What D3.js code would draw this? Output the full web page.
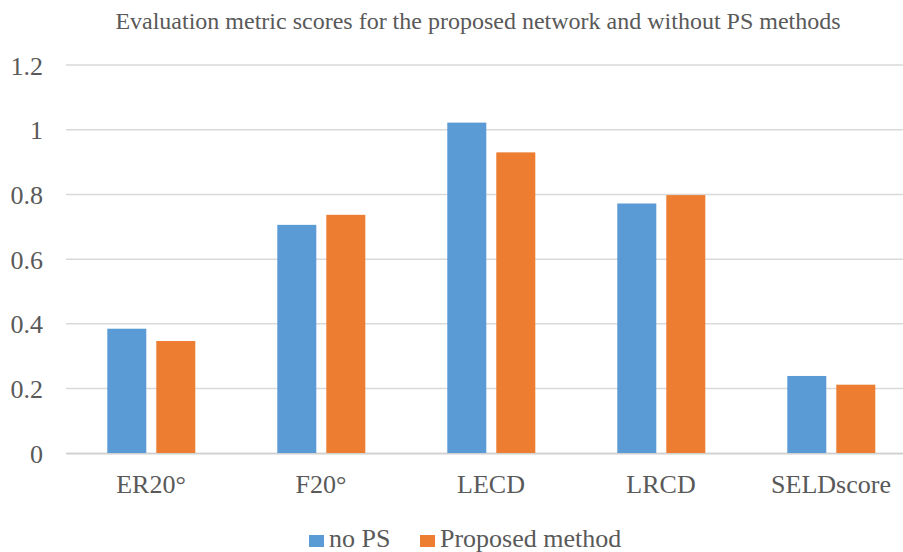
<!DOCTYPE html>
<html>
<head>
<meta charset="utf-8">
<script src="https://cdn.jsdelivr.net/npm/d3@7"></script>
<style>
  html, body { margin: 0; padding: 0; background: #ffffff; }
  svg { display: block; }
  svg text { font-family: "Liberation Serif", "DejaVu Serif", serif !important; fill: #595959; }
</style>
</head>
<body>
<svg id="chart" width="903" height="552"></svg>
<script>
// Metric categories and the two series
const categories = ["ER20°", "F20°", "LECD", "LRCD", "SELDscore"];
const seriesNames = ["no PS", "Proposed method"];
const noPS = [0.385, 0.706, 1.022, 0.772, 0.239];
const proposed = [0.347, 0.737, 0.930, 0.798, 0.212];
const yTicks = [0, 0.2, 0.4, 0.6, 0.8, 1, 1.2];
const colors = ["#5b9bd5", "#ed7d31"];
const title = "Evaluation metric scores for the proposed network and without PS methods";

const FONT = "'Liberation Serif', 'DejaVu Serif', serif";
const svg = d3.select("#chart").attr("font-family", FONT);

const x0 = d3.scaleBand().domain(categories).range([66, 916]).paddingInner(0).paddingOuter(0);
const x1 = d3.scaleBand().domain(seriesNames).range([41.3, 129.3]).paddingInner(0.204).paddingOuter(0);
const y = d3.scaleLinear().domain([0, 1.2]).range([453.3, 65]);

// Title
svg.append("text")
  .attr("x", 478).attr("y", 29)
  .attr("text-anchor", "middle")
  .attr("font-family", FONT)
  .style("font-size", "24px")
  .text(title);

// Horizontal gridlines
svg.append("g")
  .selectAll("line")
  .data(yTicks)
  .join("line")
  .attr("x1", 66).attr("x2", 916)
  .attr("y1", d => y(d)).attr("y2", d => y(d))
  .attr("stroke", "#d9d9d9")
  .attr("stroke-width", 1.5);

// Y axis labels
const yAxis = d3.axisLeft(y).tickValues(yTicks).tickFormat(d3.format("~g")).tickSize(0).tickPadding(0);
const gy = svg.append("g").attr("transform", "translate(43,0)").call(yAxis).attr("font-family", FONT);
gy.select(".domain").remove();
gy.selectAll("text")
  .style("font-size", "26px")
  .attr("fill", "#595959")
  .attr("dy", "0.35em");

// Bars
const rows = categories.map((c, i) => ({ cat: c, vals: [noPS[i], proposed[i]] }));
const groups = svg.append("g").selectAll("g")
  .data(rows)
  .join("g")
  .attr("transform", d => `translate(${x0(d.cat)},0)`);
groups.selectAll("rect")
  .data(d => d.vals.map((v, j) => ({ name: seriesNames[j], v, j })))
  .join("rect")
  .attr("x", d => x1(d.name))
  .attr("width", x1.bandwidth())
  .attr("y", d => y(d.v))
  .attr("height", d => y(0) - y(d.v))
  .attr("fill", d => colors[d.j]);

// Baseline axis
const xAxis = d3.axisBottom(x0).tickSize(0).tickPadding(0);
const gx = svg.append("g").attr("transform", `translate(0,${y(0)})`).call(xAxis).attr("font-family", FONT);
gx.select(".domain").attr("stroke", "#d0d0d0").attr("stroke-width", 1.5);
gx.selectAll("text")
  .style("font-size", "26px")
  .attr("fill", "#595959")
  .attr("y", 40)
  .attr("dy", 0);

// Legend
const legendItems = [
  { name: seriesNames[0], color: colors[0], sx: 309, tx: 329 },
  { name: seriesNames[1], color: colors[1], sx: 420, tx: 440 }
];
const lg = svg.append("g");
lg.selectAll("rect")
  .data(legendItems)
  .join("rect")
  .attr("x", d => d.sx).attr("y", 535)
  .attr("width", 15).attr("height", 12)
  .attr("fill", d => d.color);
lg.selectAll("text")
  .data(legendItems)
  .join("text")
  .attr("x", d => d.tx).attr("y", 547)
  .attr("font-family", FONT)
  .style("font-size", "26px")
  .text(d => d.name);
</script>
</body>
</html>
